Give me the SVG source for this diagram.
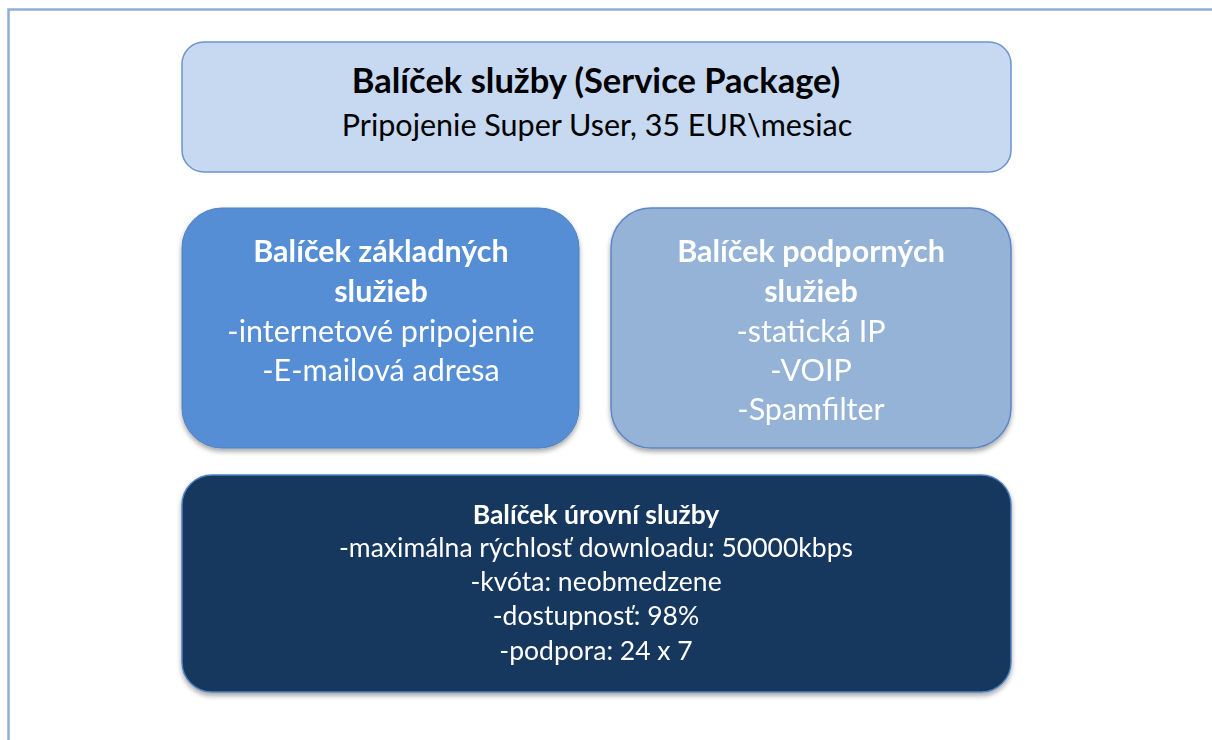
<svg xmlns="http://www.w3.org/2000/svg" width="1212" height="740" viewBox="0 0 1212 740">
  <style>
    .t { font-family: Lato, "Open Sans", "Liberation Sans", sans-serif; text-anchor: middle; }
    .b { font-weight: bold; }
    .dark { fill: #000000; }
    .light { fill: #ffffff; }
  </style>
  <defs>
    <filter id="shadow" x="-5%" y="-5%" width="110%" height="115%">
      <feDropShadow dx="0" dy="3" stdDeviation="2.5" flood-color="#000" flood-opacity="0.35"/>
    </filter>
  </defs>
  <rect x="0" y="0" width="1212" height="740" fill="#ffffff"/>
  <!-- outer frame -->
  <path d="M8.5 740 V9.5 H1212" fill="none" stroke="#8eaedc" stroke-width="2.5"/>

  <g id="service-package">
    <rect x="182" y="42" width="829" height="130" rx="22" fill="#c6d9f0" stroke="#6d94cf" stroke-width="1.5"/>
    <text class="t b dark" x="596" y="93" font-size="34.5">Balíček služby (Service Package)</text>
    <text class="t dark" x="597" y="136" font-size="30.5">Pripojenie Super User, 35 EUR\mesiac</text>
  </g>

  <g id="core-services" filter="url(#shadow)">
    <rect x="182" y="208" width="397" height="240" rx="40" fill="#558ed5" stroke="#4f81bd" stroke-width="1"/>
    <text class="t b light" x="381" y="262" font-size="30.5">Balíček základných</text>
    <text class="t b light" x="381" y="302" font-size="30.5">služieb</text>
    <text class="t light" x="381" y="342" font-size="30.5">-internetové pripojenie</text>
    <text class="t light" x="381" y="381" font-size="30.5">-E-mailová adresa</text>
  </g>

  <g id="support-services" filter="url(#shadow)">
    <rect x="611" y="208" width="400" height="240" rx="40" fill="#95b3d7" stroke="#5b87c4" stroke-width="1.5"/>
    <text class="t b light" x="811" y="262" font-size="30.5">Balíček podporných</text>
    <text class="t b light" x="811" y="302" font-size="30.5">služieb</text>
    <text class="t light" x="811" y="342" font-size="30.5">-statická IP</text>
    <text class="t light" x="811" y="381" font-size="30.5">-VOIP</text>
    <text class="t light" x="811" y="420" font-size="30.5">-Spamfilter</text>
  </g>

  <g id="service-level" filter="url(#shadow)">
    <rect x="182" y="475" width="829" height="217" rx="30" fill="#17375e" stroke="#4f81bd" stroke-width="1.5"/>
    <text class="t b light" x="596" y="524" font-size="26.5">Balíček úrovní služby</text>
    <text class="t light" x="596" y="557" font-size="26.5">-maximálna rýchlosť downloadu: 50000kbps</text>
    <text class="t light" x="596" y="591" font-size="26.5">-kvóta: neobmedzene</text>
    <text class="t light" x="596" y="625" font-size="26.5">-dostupnosť: 98%</text>
    <text class="t light" x="596" y="660" font-size="26.5">-podpora: 24 x 7</text>
  </g>

  <g id="connectors"></g>
</svg>
